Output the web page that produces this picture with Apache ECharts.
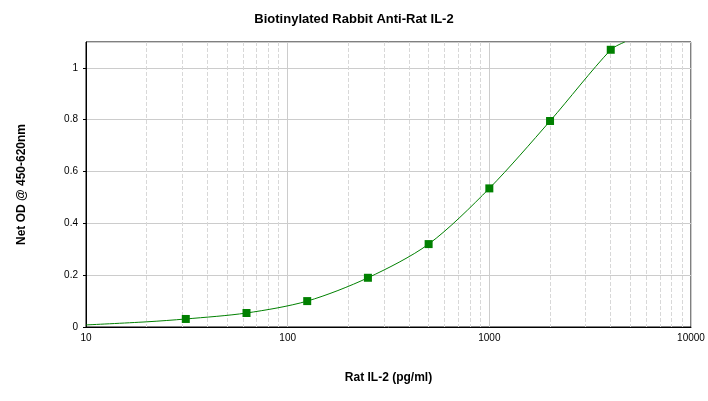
<!DOCTYPE html>
<html><head><meta charset="utf-8">
<script src="https://cdn.jsdelivr.net/npm/echarts@6/dist/echarts.min.js"></script>
<style>html,body{margin:0;padding:0;background:#fff}#c{width:708px;height:401px}</style>
</head><body><div id="c"></div>
<script>
// measured standards
var conc = [31.25, 62.5, 125, 250, 500, 1000, 2000, 4000];
var od = [0.031, 0.054, 0.1, 0.19, 0.32, 0.535, 0.795, 1.07];
// fitted curve
var curveX = [10, 20, 31.25, 62.5, 125, 250, 500, 1000, 2000, 4000, 4700];
var curveY = [0.008, 0.02, 0.031, 0.054, 0.1, 0.19, 0.32, 0.535, 0.795, 1.07, 1.1];

var chart = echarts.init(document.getElementById('c'));
chart.setOption({
    animation: false,
    title: {
        text: 'Biotinylated Rabbit Anti-Rat IL-2',
        left: 'center', top: 8,
        textStyle: {fontFamily: 'Arial', fontSize: 13, fontWeight: 'bold', color: '#000'}
    },
    grid: {left: 86, right: 17, top: 42, bottom: 74, show: true, borderColor: '#000', borderWidth: 1},
    xAxis: {
        type: 'log', min: 10, max: 10000, logBase: 10,
        name: 'Rat IL-2 (pg/ml)', nameLocation: 'middle', nameGap: 45,
        nameTextStyle: {fontFamily: 'Arial', fontSize: 12, fontWeight: 'bold', color: '#000'},
        axisLine: {lineStyle: {color: '#000'}},
        axisTick: {show: false},
        axisLabel: {fontFamily: 'Arial', fontSize: 10, color: '#000', margin: 6,
            formatter: function(v){ return String(Math.round(v)); }},
        splitLine: {show: true, lineStyle: {color: '#ccc'}},
        minorTick: {show: false, splitNumber: 9},
        minorSplitLine: {show: true, lineStyle: {color: '#d8d8d8', type: 'dashed'}}
    },
    yAxis: {
        type: 'value', min: 0, max: 1.1, interval: 0.2,
        name: 'Net OD @ 450-620nm', nameLocation: 'middle', nameGap: 58, nameRotate: 90,
        nameTextStyle: {fontFamily: 'Arial', fontSize: 12, fontWeight: 'bold', color: '#000'},
        axisLine: {show: true, lineStyle: {color: '#000'}},
        axisTick: {show: true, length: 3},
        axisLabel: {fontFamily: 'Arial', fontSize: 10, color: '#000', showMaxLabel: false},
        splitLine: {show: true, lineStyle: {color: '#ccc'}}
    },
    series: [
        {
            type: 'line', smooth: 0.3, symbol: 'none',
            lineStyle: {color: '#008000', width: 1},
            data: curveX.map(function(x, i){ return [x, curveY[i]]; }),
            clip: true
        },
        {
            type: 'scatter', symbol: 'rect', symbolSize: 8,
            itemStyle: {color: '#008000', opacity: 1},
            data: conc.map(function(x, i){ return [x, od[i]]; })
        }
    ]
});
</script></body></html>
